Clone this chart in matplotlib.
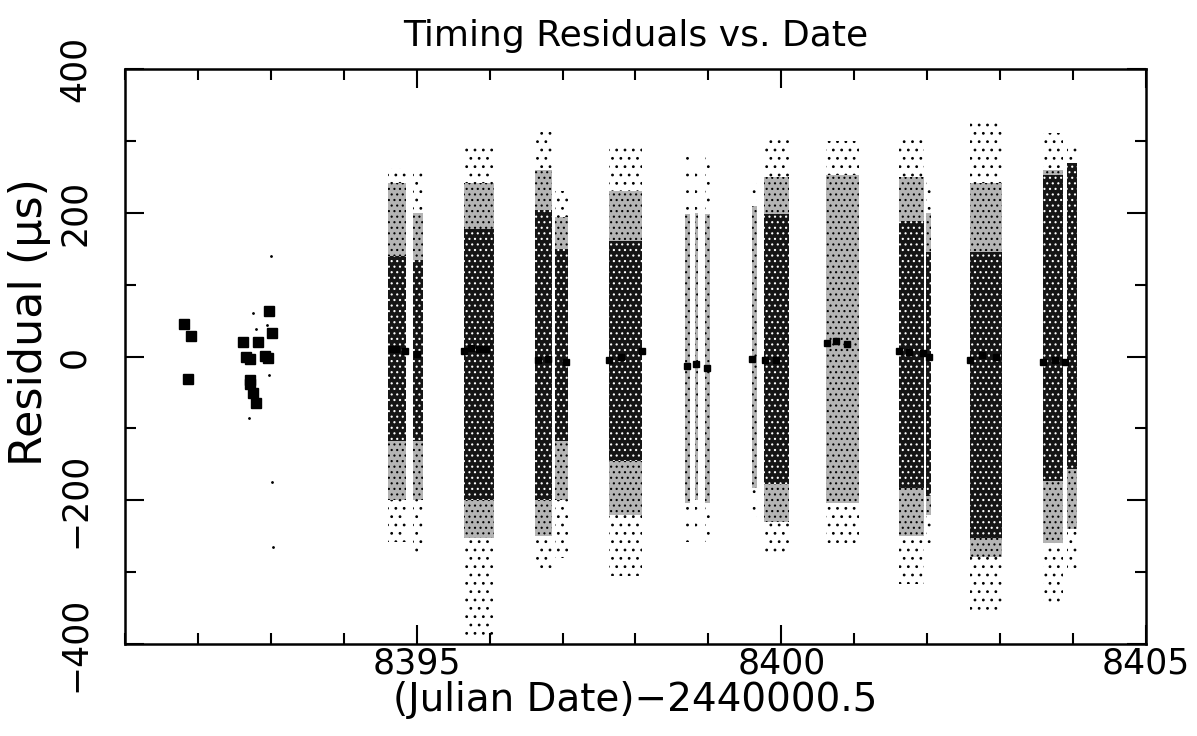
import numpy as np
import matplotlib
matplotlib.use("Agg")
import matplotlib.pyplot as plt
from matplotlib.ticker import MultipleLocator

plt.rcParams['font.family'] = ['DejaVu Sans']
plt.rcParams['hatch.linewidth'] = 0.8

# binned means from the first (sparse) nights: day, residual (us)
early_day = [8391.81, 8391.90, 8391.87, 8392.62, 8392.66, 8392.71, 8392.71,
             8392.71, 8392.76, 8392.80, 8392.83, 8392.92, 8392.96, 8392.98, 8393.01]
early_res = [45, 28, -31, 20, 0, -3, -32, -38, -51, -65, 20, 1, -2, 63, 33]

# a few lone raw residuals near the early nights
lone_day = [8392.75, 8392.80, 8392.95, 8392.97, 8393.00, 8393.02, 8393.03, 8392.70]
lone_res = [61, 38, 44, -25, 140, -175, -265, -85]

# dense observing runs: strip edges (days) and residual extents (us)
strip_lo = [8394.61, 8394.95, 8395.65, 8396.62, 8396.89, 8397.63, 8398.68, 8398.82,
            8398.95, 8399.60, 8399.76, 8400.61, 8401.61, 8401.98, 8402.59, 8403.59, 8403.91]
strip_hi = [8394.86, 8395.09, 8396.06, 8396.85, 8397.08, 8398.09, 8398.75, 8398.86,
            8399.02, 8399.67, 8400.10, 8401.06, 8401.95, 8402.05, 8403.02, 8403.86, 8404.05]
# outer (sparse) envelope
halo_lo = [-258, -274, -387, -296, -280, -306, -258, -250, -258, -230, -274, -260, -316, -260, -354, -343, -300]
halo_hi = [263, 258, 290, 312, 230, 290, 280, 270, 280, 250, 306, 300, 306, 250, 327, 311, 290]
# middle envelope
mid_lo = [-199, -200, -253, -250, -200, -220, -204, -200, -204, -183, -230, -204, -250, -220, -279, -260, -240]
mid_hi = [242, 200, 242, 260, 194, 230, 199, 200, 199, 210, 250, 253, 250, 200, 242, 260, 260]
# dense core (level 0 = no dense core)
core_lo = [-118, -118, -199, -199, -118, -145, -150, -150, -150, -150, -177, -150, -183, -194, -253, -173, -157]
core_hi = [140, 134, 177, 204, 150, 161, 150, 150, 150, 150, 199, 180, 189, 146, 146, 253, 269]
core_level = [1, 1, 1, 1, 1, 1, 0, 0, 0, 0, 1, 0, 1, 1, 1, 1, 1]

# binned means over the dense runs
mean_day = [8394.66, 8394.72, 8394.84, 8395.00, 8395.65, 8395.74, 8395.85, 8395.95,
            8396.66, 8396.80, 8397.05, 8397.63, 8397.80, 8398.09, 8398.70, 8398.83,
            8398.98, 8399.60, 8399.78, 8399.92, 8400.62, 8400.75, 8400.90, 8401.61,
            8401.75, 8401.94, 8402.02, 8402.59, 8402.75, 8402.95, 8403.59, 8403.75, 8403.89]
mean_res = [11, 11, 8, 3, 8, 12, 10, 10, -5, -3, -8, -5, 0, 8, -13, -11,
            -16, -3, -5, -5, 19, 22, 18, 8, 6, 5, 0, -5, 2, 0, -8, -5, -8]

fig = plt.figure(figsize=(11.97, 7.36), dpi=100)
ax = fig.add_axes([0.1044, 0.125, 0.853, 0.781])

lo = np.array(strip_lo)
hi = np.array(strip_hi)
widths = hi - lo
centers = (hi + lo) / 2
ax.bar(centers, np.array(halo_hi) - np.array(halo_lo), bottom=halo_lo, width=widths,
       color='white', edgecolor='k', linewidth=0, hatch='..')
ax.bar(centers, np.array(mid_hi) - np.array(mid_lo), bottom=mid_lo, width=widths,
       color='#b4b4b4', edgecolor='k', linewidth=0, hatch='...')
for c, w, clo, chi, lv in zip(centers, widths, core_lo, core_hi, core_level):
    if lv:
        ax.bar(c, chi - clo, bottom=clo, width=w, color='#151515', edgecolor='white',
               linewidth=0, hatch='...')

ax.plot(lone_day, lone_res, 'k.', ms=2)
ax.plot(early_day, early_res, 'ks', ms=6.5)
ax.plot(mean_day, mean_res, 'ks', ms=5)

ax.set_xlim(8391, 8405)
ax.set_ylim(-400, 400)
ax.xaxis.set_major_locator(MultipleLocator(5))
ax.xaxis.set_minor_locator(MultipleLocator(1))
ax.yaxis.set_major_locator(MultipleLocator(200))
ax.yaxis.set_minor_locator(MultipleLocator(100))
ax.tick_params(which='both', direction='in', top=True, right=True, width=1.5)
ax.tick_params(which='major', length=14, labelsize=25)
ax.tick_params(axis='x', which='major', pad=2)
ax.tick_params(axis='y', which='major', pad=24)
ax.tick_params(which='minor', length=8)
for lab in ax.get_yticklabels():
    lab.set_rotation(90)
    lab.set_va('center')
for s in ax.spines.values():
    s.set_linewidth(1.8)

ax.set_title('Timing Residuals vs. Date', fontsize=26, pad=17)
ax.set_xlabel('(Julian Date)\u22122440000.5', fontsize=28, labelpad=0)
ax.set_ylabel('Residual (\u03bcs)', fontsize=32)
ax.yaxis.set_label_coords(-0.072, 0.56)

fig.savefig('out.png', dpi=100)
